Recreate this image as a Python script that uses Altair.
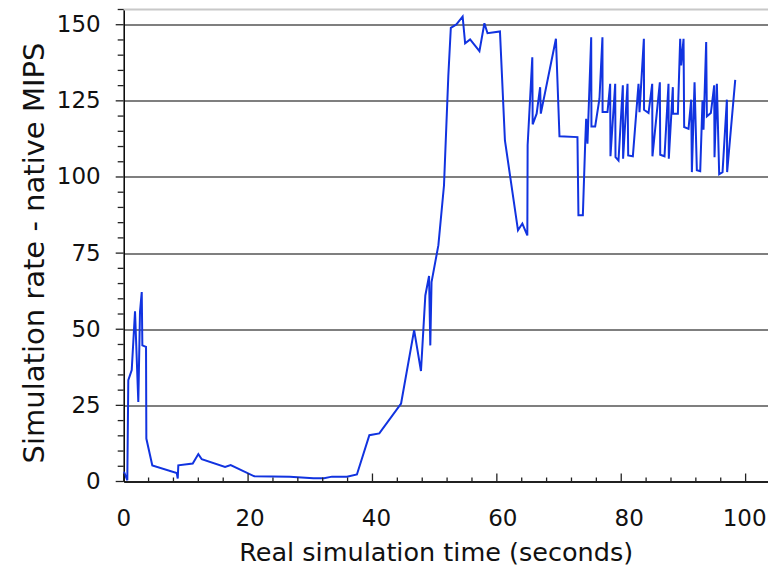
import altair as alt
import pandas as pd

# ---- data ----
time_s = [0.05, 0.58, 0.74, 1.29, 1.82, 2.35, 2.62, 2.90, 3.00, 3.59, 3.64, 4.60, 8.53, 8.69, 8.78,
          11.1, 12.0, 12.55, 16.3, 17.2, 21.0, 26.7, 30.5, 32.2, 33.5, 35.9, 37.5, 39.5, 41.1, 44.6,
          46.7, 47.8, 48.5, 49.1, 49.3, 49.5, 50.6, 51.5, 52.2, 52.6, 53.5, 54.5, 54.9, 55.7, 57.2,
          58.0, 58.5, 60.5, 61.3, 63.4, 64.1, 64.9, 64.95, 65.7, 65.76, 66.4, 66.96, 67.07, 69.5,
          70.07, 72.96, 73.12, 73.83, 74.2, 74.36, 74.57, 75.17, 75.21, 75.81, 76.5, 76.98, 77.0,
          77.79, 78.22, 78.27, 79.03, 79.08, 79.56, 80.26, 80.3, 81.01, 81.12, 81.87, 82.78, 82.94,
          83.64, 83.67, 84.39, 84.98, 85.02, 86.21, 86.27, 86.96, 87.6, 87.65, 88.3, 88.33, 89.11,
          89.48, 89.64, 90.02, 90.12, 90.82, 91.25, 91.36, 91.79, 92.16, 92.7, 93.07, 93.23, 93.66,
          93.77, 94.41, 94.95, 95.0, 95.38, 95.75, 96.29, 96.99, 97.03, 98.33]
mips = [3.2, 0.4, 33.3, 36.6, 55.9, 26.1, 55.7, 62.2, 44.7, 44.2, 14.1, 5.3, 2.8, 1.0, 5.3,
        5.9, 9.0, 7.3, 4.8, 5.4, 1.7, 1.6, 1.1, 1.1, 1.6, 1.6, 2.3, 15.2, 15.8, 25.6,
        49.7, 36.3, 61.1, 67.5, 44.7, 65.5, 77.6, 97.2, 133.3, 149.0, 150.1, 152.7, 143.9, 145.2, 141.3,
        150.5, 147.2, 147.8, 112.0, 82.5, 84.7, 80.8, 110.4, 139.3, 117.3, 120.8, 129.5, 120.8, 145.4,
        113.4, 113.1, 87.4, 87.4, 110.7, 119.1, 110.9, 145.9, 116.6, 116.6, 125.7, 145.9, 121.3,
        121.3, 130.6, 106.8, 130.6, 106.5, 105.4, 130.1, 106.0, 130.6, 107.1, 106.8, 130.6, 121.3,
        145.4, 122.1, 121.0, 130.6, 106.8, 131.1, 107.3, 106.8, 130.6, 106.0, 129.5, 120.8, 120.8,
        145.4, 136.6, 145.4, 116.4, 115.8, 125.4, 101.6, 131.1, 102.2, 101.9, 125.1, 115.5, 144.3,
        119.9, 121.0, 130.1, 106.5, 130.6, 100.9, 101.6, 125.4, 101.6, 131.9]

x_major = [0, 20, 40, 60, 80, 100]
x_minor = [4, 8, 12, 16, 24, 28, 32, 36, 44, 48, 52, 56, 64, 68, 72, 76, 84, 88, 92, 96]
y_major = [0, 25, 50, 75, 100, 125, 150]
y_minor = [5, 10, 15, 20, 30, 35, 40, 45, 55, 60, 65, 70, 80, 85, 90, 95,
           105, 110, 115, 120, 130, 135, 140, 145, 155]

x_title = "Real simulation time (seconds)"
y_title = "Simulation rate - native MIPS"

PAD_L = 115.7
W = 644.3          # keeps the whole svg inside the 760px body
H = 472
X_MAX = 103.6
FONT = "DejaVu Sans"
INK = "#111111"

df = pd.DataFrame({"t": time_s, "r": mips, "i": list(range(len(time_s)))})

xs = alt.Scale(domain=[0, X_MAX], nice=False, zero=False)
ys = alt.Scale(domain=[0, 155], nice=False)

x_axis = alt.Axis(
    values=x_major, grid=False, ticks=False, labels=False, domainColor="black", domainWidth=1.5,
    title=x_title, titleFont=FONT, titleFontSize=25.5, titleFontWeight="normal",
    titleColor=INK, titleX=312, titleY=78.5, titleAlign="center",
    titleBaseline="alphabetic")
y_axis = alt.Axis(
    values=y_major, grid=True, gridColor="black", gridWidth=1.1, ticks=False,
    domainColor="black", domainWidth=1.5,
    labelFont=FONT, labelFontSize=23, labelColor=INK, labelPadding=23.5,
    labelFlush=False, labelOverlap=False,
    title=y_title, titleFont=FONT, titleFontSize=29, titleFontWeight="normal",
    titleColor=INK, titleAngle=270, titleX=-80, titleY=243, titleAlign="center",
    titleBaseline="alphabetic")

line = alt.Chart(df).mark_line(color="#1133e0", strokeWidth=2).encode(
    x=alt.X("t:Q", scale=xs, axis=x_axis),
    y=alt.Y("r:Q", scale=ys, axis=y_axis),
    order="i:Q",
)

def xtick(vals, length):
    return alt.Chart(pd.DataFrame({"t": vals})).mark_rule(color="#222222", strokeWidth=1.3).encode(
        x=alt.X("t:Q", scale=xs, axis=x_axis),
        y=alt.value(H), y2=alt.value(H - length))

def ytick(vals, length):
    return alt.Chart(pd.DataFrame({"r": vals})).mark_rule(color="#222222", strokeWidth=1.3).encode(
        y=alt.Y("r:Q", scale=ys, axis=y_axis),
        x=alt.value(0), x2=alt.value(-length))

# x tick labels: in the reference they drift slightly right of their ticks
# (the last one is held back so that it stays inside the page)
x_labels = alt.Chart(pd.DataFrame({"lab": x_major})).transform_calculate(
    t="min(datum.lab * 1.016, 99.85)"
).mark_text(font=FONT, fontSize=23, color=INK, baseline="top", align="center").encode(
    x=alt.X("t:Q", scale=xs, axis=x_axis),
    y=alt.value(H + 26),
    text=alt.Text("lab:Q"),
)

top_line = alt.Chart(pd.DataFrame({"r": [0]})).mark_rule(color="#c8c8c8", strokeWidth=2).encode(
    x=alt.value(0), x2=alt.value(W), y=alt.value(0))

chart = alt.layer(
    line, top_line, xtick(x_minor, 4), xtick(x_major, 8), ytick(y_minor, 6), ytick(y_major, 8),
    x_labels
).properties(
    width=W, height=H,
    autosize=alt.AutoSizeParams(type="none"),
    padding={"left": PAD_L, "top": 1.5, "right": 0, "bottom": 84},
    background="white",
).configure_view(stroke=None)

chart.save("out.html", embed_options={"renderer": "svg", "actions": False})
